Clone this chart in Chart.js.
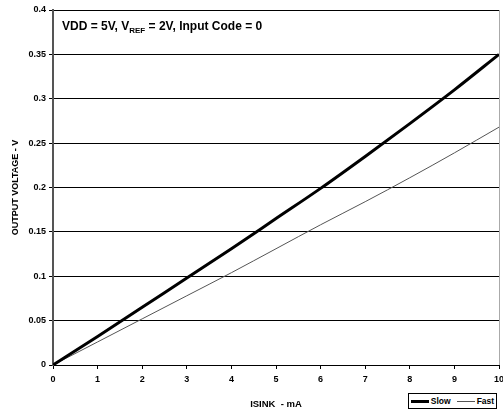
<!DOCTYPE html>
<html>
<head>
<meta charset="utf-8">
<script src="https://cdn.jsdelivr.net/npm/chart.js@4.4.0/dist/chart.umd.min.js"></script>
<style>
  body { margin: 0; background: #fff; }
  #wrap { position: relative; width: 503px; height: 410px; }
  #legend {
    position: absolute; left: 408px; top: 393px; width: 87px; height: 14px;
    border: 1.5px solid #000; background: #fff;
    font: bold 8.5px "Liberation Sans", Arial, sans-serif; color: #000;
    display: flex; align-items: center; justify-content: center; gap: 2px;
  }
  #legend span.ln { display: inline-block; width: 18px; vertical-align: middle; }
</style>
</head>
<body>
<div id="wrap">
  <canvas id="chart1" width="503" height="410"></canvas>
  <div id="legend">
    <span class="ln" style="border-top:3px solid #000"></span>Slow
    <span class="ln" style="border-top:1px solid #555; margin-left:4px"></span>Fast
  </div>
</div>
<script>
const isinkValues = [0, 1, 2, 3, 4, 5, 6, 7, 8, 9, 10]
const slowValues = [0, 0.032, 0.065, 0.098, 0.131, 0.165, 0.199, 0.235, 0.272, 0.310, 0.350]
const fastValues = [0, 0.026, 0.052, 0.078, 0.104, 0.131, 0.158, 0.184, 0.211, 0.239, 0.268]
const yTickLabels = ['0', '0.05', '0.1', '0.15', '0.2', '0.25', '0.3', '0.35', '0.4']

const fontFamily = '"Liberation Sans", Arial, sans-serif'

function toPoints(xs, ys) {
    return xs.map((x, i) => ({x: x, y: ys[i]}))
}

// condition text in the top left corner of the plot, and the grey right border
const extrasPlugin = {
    id: 'extras',
    afterDraw(chart) {
        const ctx = chart.ctx
        const area = chart.chartArea
        ctx.save()
        ctx.strokeStyle = '#aaa'
        ctx.lineWidth = 1
        ctx.beginPath()
        ctx.moveTo(area.right + 0.5, area.top)
        ctx.lineTo(area.right + 0.5, area.bottom)
        ctx.stroke()

        ctx.fillStyle = '#000'
        ctx.textBaseline = 'alphabetic'
        let x = area.left + 9
        const y = area.top + 20
        const parts = [
            ['VDD = 5V, V', 'bold 12px', 0],
            ['REF', 'bold 8px', 3],
            [' = 2V, Input Code = 0', 'bold 12px', 0],
        ]
        parts.forEach(p => {
            ctx.font = p[1] + ' ' + fontFamily
            ctx.fillText(p[0], x, y + p[2])
            x += ctx.measureText(p[0]).width
        })
        ctx.restore()
    }
}

const chart = new Chart(document.getElementById('chart1'), {
    type: 'line',
    data: {
        datasets: [
            {
                label: 'Slow',
                data: toPoints(isinkValues, slowValues),
                borderColor: '#000',
                borderWidth: 3,
                pointRadius: 0,
                cubicInterpolationMode: 'monotone',
            },
            {
                label: 'Fast',
                data: toPoints(isinkValues, fastValues),
                borderColor: '#555',
                borderWidth: 1,
                pointRadius: 0,
                cubicInterpolationMode: 'monotone',
            },
        ],
    },
    options: {
        responsive: false,
        animation: false,
        layout: {padding: {top: 10, right: 4, left: 0, bottom: 0}},
        plugins: {
            legend: {display: false},
            tooltip: {enabled: false},
        },
        scales: {
            x: {
                type: 'linear',
                min: 0,
                max: 10,
                afterFit: (scale) => {
                    scale.height = 45
                    scale.paddingRight = 0
                    scale.paddingLeft = 0
                },
                ticks: {
                    stepSize: 1,
                    color: '#000',
                    font: {family: fontFamily, size: 9, weight: 'bold'},
                    padding: 5,
                },
                grid: {
                    drawOnChartArea: false,
                    drawTicks: true,
                    tickLength: 4,
                    color: '#000',
                },
                border: {color: '#000', width: 1},
                title: {
                    display: true,
                    text: 'ISINK  - mA',
                    color: '#000',
                    font: {family: fontFamily, size: 9.5, weight: 'bold'},
                    padding: {top: 5, bottom: 0},
                },
            },
            y: {
                min: 0,
                max: 0.4,
                afterFit: (scale) => { scale.width = 53 },
                ticks: {
                    stepSize: 0.05,
                    color: '#000',
                    font: {family: fontFamily, size: 9, weight: 'bold'},
                    padding: 3,
                    callback: (value, index) => yTickLabels[index],
                },
                grid: {
                    color: '#000',
                    lineWidth: 1,
                    tickLength: 4,
                },
                border: {color: '#555', width: 2},
                title: {
                    display: true,
                    text: 'OUTPUT VOLTAGE - V',
                    color: '#000',
                    font: {family: fontFamily, size: 9, weight: 'bold'},
                    padding: {top: 10, bottom: 0},
                },
            },
        },
    },
    plugins: [extrasPlugin],
})
</script>
</body>
</html>
